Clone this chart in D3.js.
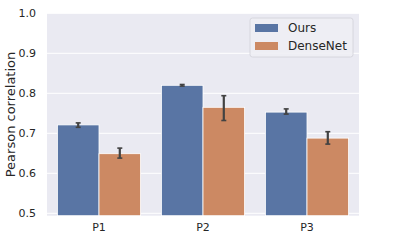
<!DOCTYPE html>
<html>
<head>
<meta charset="utf-8">
<title>Pearson correlation</title>
<script src="https://cdn.jsdelivr.net/npm/d3@7"></script>
<style>
body { margin: 0; background: #fff; }
text { font-family: "DejaVu Sans", sans-serif; fill: #262626; }
.axis path, .axis line { display: none; }
</style>
</head>
<body>
<script>
var categories = ["P1", "P2", "P3"];
var seriesNames = ["Ours", "DenseNet"];
var ours      = [0.721, 0.820, 0.753];
var oursLo    = [0.715, 0.818, 0.748];
var oursHi    = [0.726, 0.822, 0.761];
var dense     = [0.649, 0.765, 0.688];
var denseLo   = [0.638, 0.732, 0.673];
var denseHi   = [0.663, 0.794, 0.704];
var yTicks = [0.5, 0.6, 0.7, 0.8, 0.9, 1.0];
var colors = ["#5975a4", "#cc8963"];

var width = 395, height = 242;
var mLeft = 47, mRight = 359, mTop = 13.3, mBottom = 215.7;

var svg = d3.select("body").append("svg")
	.attr("width", width)
	.attr("height", height);

var x0 = d3.scaleBand().domain(categories).range([mLeft, mRight]).paddingInner(0).paddingOuter(0);
var x1 = d3.scaleBand().domain(seriesNames).range([0, x0.bandwidth()]).paddingInner(0).paddingOuter(0.25);
var y = d3.scaleLinear().domain([0.494, 1.0]).range([mBottom, mTop]);

// background
svg.append("rect")
	.attr("x", mLeft).attr("y", mTop)
	.attr("width", mRight - mLeft).attr("height", mBottom - mTop)
	.attr("fill", "#eaeaf2");

// grid
svg.selectAll(".grid").data(yTicks).enter().append("line")
	.attr("class", "grid")
	.attr("x1", mLeft).attr("x2", mRight)
	.attr("y1", function(d){ return y(d); })
	.attr("y2", function(d){ return y(d); })
	.attr("stroke", "#fff").attr("stroke-width", 1);

var rows = [];
categories.forEach(function(c, i){
	rows.push({cat: c, s: "Ours", v: ours[i], lo: oursLo[i], hi: oursHi[i], k: 0});
	rows.push({cat: c, s: "DenseNet", v: dense[i], lo: denseLo[i], hi: denseHi[i], k: 1});
});

svg.selectAll(".bar").data(rows).enter().append("rect")
	.attr("class", "bar")
	.attr("x", function(d){ return x0(d.cat) + x1(d.s); })
	.attr("y", function(d){ return y(d.v); })
	.attr("width", x1.bandwidth())
	.attr("height", function(d){ return y(0.494) - y(d.v); })
	.attr("fill", function(d){ return colors[d.k]; })
	.attr("stroke", "#fff").attr("stroke-width", 0.8);

// error bars
function cx(d){ return x0(d.cat) + x1(d.s) + x1.bandwidth() / 2; }
var eb = svg.selectAll(".err").data(rows).enter().append("g").attr("class", "err")
	.attr("stroke", "#424242");
eb.append("line")
	.attr("x1", cx).attr("x2", cx)
	.attr("y1", function(d){ return y(d.lo); })
	.attr("y2", function(d){ return y(d.hi); })
	.attr("stroke-width", 2.2);
["lo", "hi"].forEach(function(k){
	eb.append("line")
		.attr("x1", function(d){ return cx(d) - 2.5; })
		.attr("x2", function(d){ return cx(d) + 2.5; })
		.attr("y1", function(d){ return y(d[k]); })
		.attr("y2", function(d){ return y(d[k]); })
		.attr("stroke-width", 1.6);
});

// axes
svg.append("g").attr("class", "axis")
	.attr("transform", "translate(" + (mLeft - 4) + ",0)")
	.call(d3.axisLeft(y).tickValues(yTicks).tickFormat(d3.format(".1f")).tickSize(0).tickPadding(7))
	.selectAll("text").attr("font-size", 11).style("fill", "#262626");

svg.append("g").attr("class", "axis")
	.attr("transform", "translate(0," + mBottom + ")")
	.call(d3.axisBottom(x0).tickSize(0).tickPadding(8))
	.selectAll("text").attr("font-size", 11).style("fill", "#262626");

svg.selectAll(".axis text").attr("font-family", "DejaVu Sans");

svg.append("text")
	.attr("transform", "translate(15," + ((mTop + mBottom) / 2) + ") rotate(-90)")
	.attr("text-anchor", "middle")
	.attr("font-size", 13)
	.text("Pearson correlation");

// legend
var lg = svg.append("g").attr("transform", "translate(250,18)");
lg.append("rect")
	.attr("width", 103).attr("height", 39).attr("rx", 2.5)
	.attr("fill", "#eeeef4").attr("fill-opacity", 0.9)
	.attr("stroke", "#d0d0d8").attr("stroke-width", 0.8);
seriesNames.forEach(function(s, i){
	lg.append("rect")
		.attr("x", 5).attr("y", 6 + i * 18)
		.attr("width", 23).attr("height", 8)
		.attr("fill", colors[i]);
	lg.append("text")
		.attr("x", 38).attr("y", 10 + i * 18)
		.attr("dy", "0.35em")
		.attr("font-size", 12)
		.text(s);
});
</script>
</body>
</html>
